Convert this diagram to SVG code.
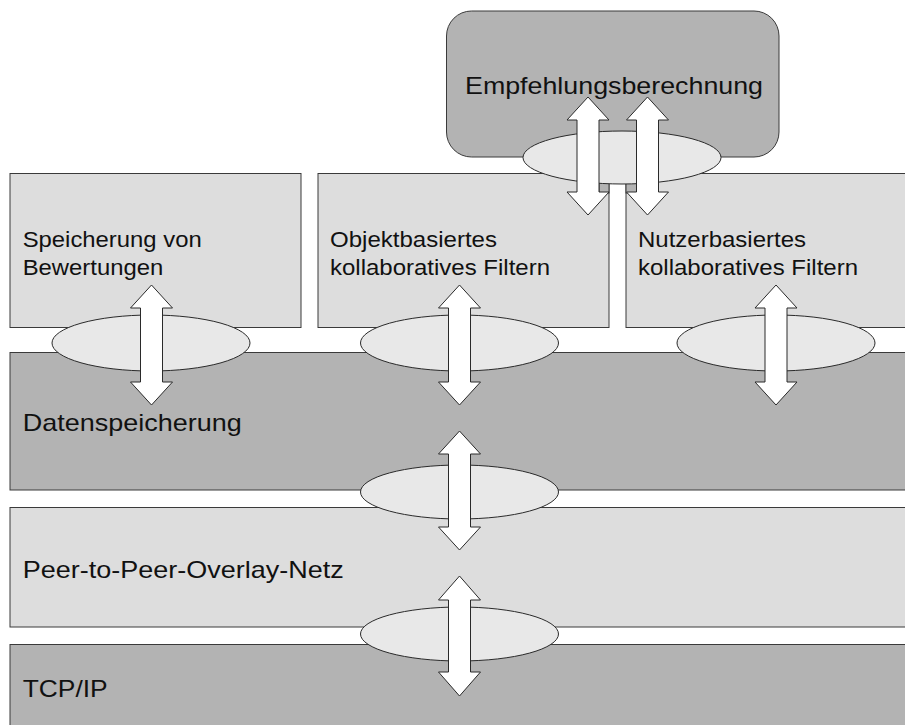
<svg xmlns="http://www.w3.org/2000/svg" width="905" height="725" viewBox="0 0 905 725">
  <style>
    .dark { fill: #b3b3b3; stroke: #3a3a3a; stroke-width: 1; }
    .light { fill: #dddddd; stroke: #3a3a3a; stroke-width: 1; }
    .iface { fill: #e8e8e8; stroke: #2a2a2a; stroke-width: 1; }
    .arrow { fill: #ffffff; stroke: #2a2a2a; stroke-width: 1; stroke-linejoin: miter; }
    .lbl { font-family: "Liberation Sans", Arial, sans-serif; fill: #111111; }
    .big { font-size: 24px; }
    .mid { font-size: 22px; }
  </style>

  <rect width="905" height="725" fill="#ffffff"/>

  <!-- layer bands -->
  <g id="tcpip">
    <rect class="dark" x="10" y="644.5" width="910" height="100"/>
    <text class="lbl big" x="22.7" y="697" textLength="85" lengthAdjust="spacingAndGlyphs">TCP/IP</text>
  </g>
  <g id="overlay">
    <rect class="light" x="10" y="507.5" width="910" height="119.5"/>
    <text class="lbl big" x="22.7" y="578" textLength="321" lengthAdjust="spacingAndGlyphs">Peer-to-Peer-Overlay-Netz</text>
  </g>
  <g id="datenspeicherung">
    <rect class="dark" x="10" y="352.5" width="910" height="137.5"/>
    <text class="lbl big" x="22.7" y="431" textLength="219" lengthAdjust="spacingAndGlyphs">Datenspeicherung</text>
  </g>

  <!-- service boxes -->
  <g id="speicherung">
    <rect class="light" x="10" y="173.5" width="291" height="154"/>
    <text class="lbl mid" x="22.7" y="247.3" textLength="179" lengthAdjust="spacingAndGlyphs">Speicherung von</text>
    <text class="lbl mid" x="22.7" y="275.3" textLength="140.5" lengthAdjust="spacingAndGlyphs">Bewertungen</text>
  </g>
  <g id="objektbasiert">
    <rect class="light" x="318" y="173.5" width="291" height="154"/>
    <text class="lbl mid" x="330" y="247.3" textLength="167" lengthAdjust="spacingAndGlyphs">Objektbasiertes</text>
    <text class="lbl mid" x="330" y="275.3" textLength="220" lengthAdjust="spacingAndGlyphs">kollaboratives Filtern</text>
  </g>
  <g id="nutzerbasiert">
    <rect class="light" x="626" y="173.5" width="300" height="154"/>
    <text class="lbl mid" x="638" y="247.3" textLength="168" lengthAdjust="spacingAndGlyphs">Nutzerbasiertes</text>
    <text class="lbl mid" x="638" y="275.3" textLength="220" lengthAdjust="spacingAndGlyphs">kollaboratives Filtern</text>
  </g>
  <g id="empfehlung">
    <rect class="dark" x="446.5" y="11" width="332.5" height="146" rx="25" ry="25"/>
    <text class="lbl big" x="465" y="94" textLength="298" lengthAdjust="spacingAndGlyphs">Empfehlungsberechnung</text>
  </g>

  <!-- stem pieces below the top interface -->
  <g id="stem">
    <rect class="dark" x="599" y="180" width="10" height="13"/>
    <rect class="dark" x="626" y="180" width="11" height="13"/>
  </g>

  <!-- interfaces between layers -->
  <g id="interfaces">
    <ellipse class="iface" cx="622" cy="157.5" rx="99" ry="26.5"/>
    <ellipse class="iface" cx="151" cy="343" rx="99" ry="28"/>
    <ellipse class="iface" cx="459.5" cy="343" rx="99" ry="28"/>
    <ellipse class="iface" cx="776" cy="343" rx="99" ry="28"/>
    <ellipse class="iface" cx="459.5" cy="492" rx="99" ry="27"/>
    <ellipse class="iface" cx="459.5" cy="634" rx="99" ry="27"/>
  </g>

  <!-- double-headed block arrows -->
  <g id="connectors">
    <path class="arrow" d="M588,97 L609,120 L599,120 L599,192 L609,192 L588,215 L567,192 L577,192 L577,120 L567,120 Z"/>
    <path class="arrow" d="M647.5,97 L668.5,120 L658.5,120 L658.5,192 L668.5,192 L647.5,215 L626.5,192 L636.5,192 L636.5,120 L626.5,120 Z"/>
    <path class="arrow" d="M151.5,285 L172.5,308 L162.5,308 L162.5,382 L172.5,382 L151.5,405 L130.5,382 L140.5,382 L140.5,308 L130.5,308 Z"/>
    <path class="arrow" d="M459.5,285 L480.5,308 L470.5,308 L470.5,382 L480.5,382 L459.5,405 L438.5,382 L448.5,382 L448.5,308 L438.5,308 Z"/>
    <path class="arrow" d="M776,285 L797,308 L787,308 L787,382 L797,382 L776,405 L755,382 L765,382 L765,308 L755,308 Z"/>
    <path class="arrow" d="M459.5,431 L480.5,454 L470.5,454 L470.5,527 L480.5,527 L459.5,550 L438.5,527 L448.5,527 L448.5,454 L438.5,454 Z"/>
    <path class="arrow" d="M459.5,576 L480.5,600 L470.5,600 L470.5,672 L480.5,672 L459.5,696 L438.5,672 L448.5,672 L448.5,600 L438.5,600 Z"/>
  </g>
</svg>
